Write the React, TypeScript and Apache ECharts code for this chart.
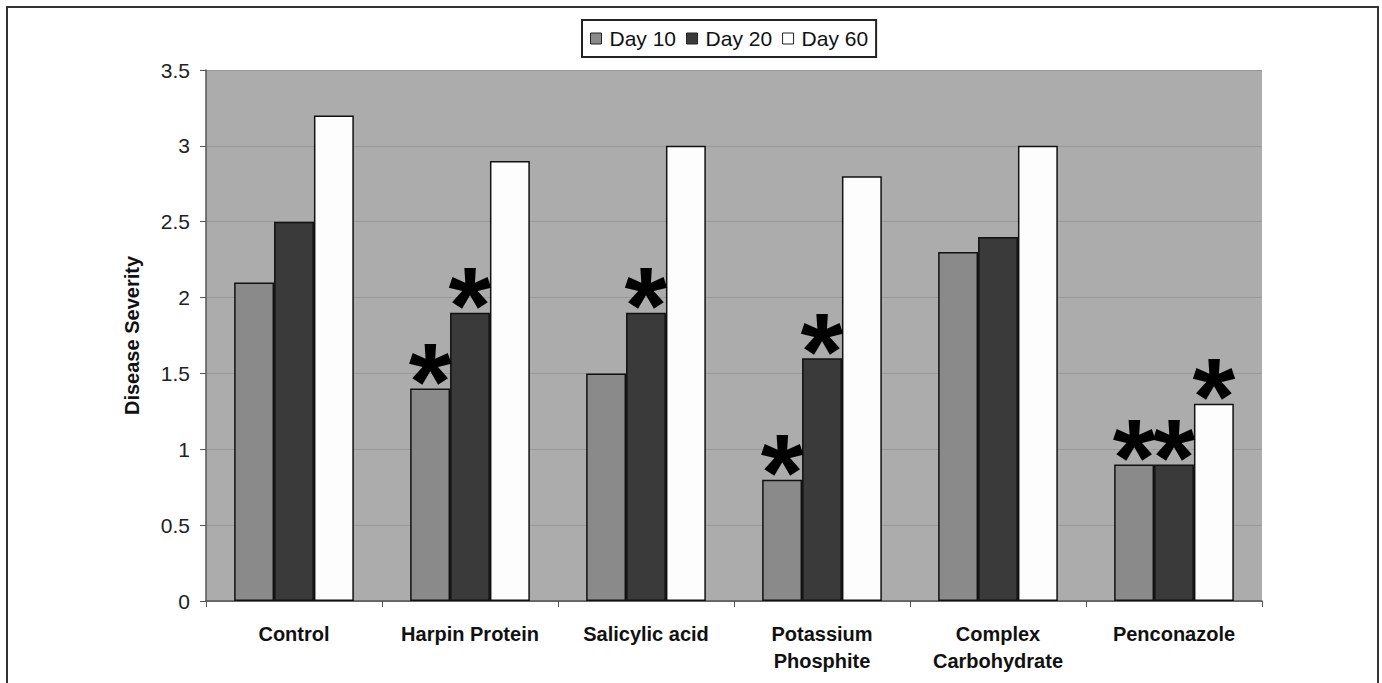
import React, { useEffect, useRef } from "react";
import * as echarts from "echarts";

const categories = ["Control", "Harpin Protein", "Salicylic acid", "Potassium\nPhosphite", "Complex\nCarbohydrate", "Penconazole"];
const seriesNames = ["Day 10", "Day 20", "Day 60"];
const day10 = [2.1, 1.4, 1.5, 0.8, 2.3, 0.9];
const day20 = [2.5, 1.9, 1.9, 1.6, 2.4, 0.9];
const day60 = [3.2, 2.9, 3.0, 2.8, 3.0, 1.3];
const sig10 = [false, true, false, true, false, true];
const sig20 = [false, true, true, true, false, true];
const sig60 = [false, false, false, false, false, true];
const colors = ["#8a8a8a", "#3a3a3a", "#fdfdfd"];

export default function App() {
  const ref = useRef<HTMLDivElement>(null);
  useEffect(() => {
    const chart = echarts.init(ref.current!, null, { renderer: "svg" });
    const mk = (vals: number[], sig: boolean[]) =>
      vals.map((v, i) => ({
        value: v,
        label: {
          show: sig[i],
          position: "top",
          formatter: "*",
          fontSize: 110,
          fontWeight: "bold",
          fontFamily: "Liberation Sans, Arial, sans-serif",
          color: "#000",
          offset: [0, 52],
        },
      }));
    const data = [mk(day10, sig10), mk(day20, sig20), mk(day60, sig60)];
    chart.setOption({
      animation: false,
      backgroundColor: "#fff",
      textStyle: { fontFamily: "Liberation Sans, Arial, sans-serif" },
      graphic: [
        {
          type: "rect",
          shape: { x: 7, y: 7, width: 1371, height: 700 },
          style: { fill: "none", stroke: "#333", lineWidth: 2 },
          silent: true,
        },
      ],
      legend: {
        top: 20,
        left: 582,
        data: seriesNames,
        icon: "rect",
        itemWidth: 11,
        itemHeight: 11,
        itemGap: 10,
        padding: [8, 8, 8, 8],
        borderColor: "#222",
        borderWidth: 2,
        backgroundColor: "#fff",
        textStyle: { fontSize: 21, color: "#111", padding: [0, 0, 0, 3] },
        itemStyle: { borderColor: "#222", borderWidth: 1 },
      },
      grid: { left: 206, top: 70, width: 1056, height: 531, backgroundColor: "#acacac", show: true, borderWidth: 0 },
      xAxis: {
        type: "category",
        data: categories,
        axisLine: { lineStyle: { color: "#555", width: 1.5 } },
        axisTick: { show: true, length: 6, lineStyle: { color: "#555" } },
        axisLabel: { interval: 0, fontSize: 20, fontWeight: "bold", color: "#111", margin: 19, lineHeight: 27 },
      },
      yAxis: {
        type: "value",
        min: 0,
        max: 3.5,
        interval: 0.5,
        name: "Disease Severity",
        nameLocation: "middle",
        nameGap: 64,
        nameTextStyle: { fontSize: 20, fontWeight: "bold", color: "#111" },
        axisLine: { show: true, lineStyle: { color: "#555", width: 1.5 } },
        axisTick: { show: true, length: 6, lineStyle: { color: "#555" } },
        axisLabel: { fontSize: 21, color: "#222", margin: 16 },
        splitLine: { show: true, lineStyle: { color: "#999", width: 1 } },
      },
      series: seriesNames.map((name, k) => ({
        name,
        type: "bar",
        data: data[k],
        barGap: "0%",
        barCategoryGap: "32%",
        itemStyle: { color: colors[k], borderColor: "#111", borderWidth: 1.5 },
      })),
    });
    return () => chart.dispose();
  }, []);
  return <div ref={ref} style={{ position: "fixed", left: 0, top: 0, width: 1382, height: 683 }} />;
}
